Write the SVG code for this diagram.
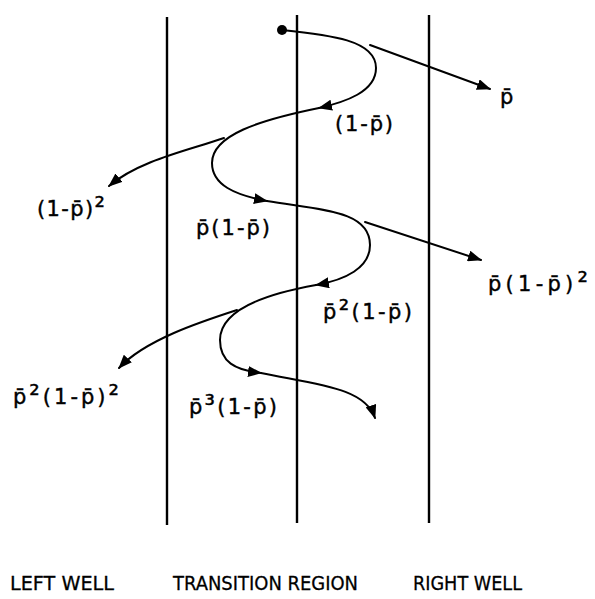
<svg xmlns="http://www.w3.org/2000/svg" width="595" height="599" viewBox="0 0 595 599">
<style>
.wall{stroke:#000;stroke-width:2.4;fill:none}
.c{stroke:#000;stroke-width:2;fill:none;stroke-linecap:round}
.a{marker-end:url(#ah)}
.lb{font-family:"DejaVu Sans",sans-serif;font-size:21px;fill:#000;stroke:#000;stroke-width:0.4}
.sp{font-size:26px}
.bt{font-family:"DejaVu Sans",sans-serif;font-size:20px;fill:#000;stroke:#000;stroke-width:0.3}
</style>
<defs>
<marker id="ah" viewBox="0 0 14 11" refX="13" refY="5.5" markerWidth="14" markerHeight="11" markerUnits="userSpaceOnUse" orient="auto">
<path d="M0,0 L14,5.5 L0,11 Z" fill="#000"/>
</marker>
</defs>
<rect width="595" height="599" fill="#fff"/>
<g id="walls">
<line class="wall" x1="167" y1="17" x2="167" y2="525"/>
<line class="wall" x1="297" y1="15" x2="297" y2="523"/>
<line class="wall" x1="429" y1="15" x2="429" y2="523"/>
</g>
<g id="connectors">
<circle cx="282" cy="30" r="5" fill="#000"/>
<path class="c a" d="M282,30 C330,35 376,40 376,68 C376,92 345,102 319,108"/>
<path class="c a" d="M319,108 C260,120 212,135 212,163 C212,185 235,195 267,201"/>
<path class="c a" d="M267,201 C320,210 370,210 370,245 C370,268 345,280 316,285"/>
<path class="c a" d="M316,285 C260,295 220,312 220,340 C220,362 235,370 261,373"/>
<path class="c a" d="M261,373 C320,385 365,388 375,418"/>
<path class="c a" d="M370,45 L490,89"/>
<path class="c a" d="M224,138 C190,150 140,160 109,186"/>
<path class="c a" d="M365,222 L481,260"/>
<path class="c a" d="M237,310 C200,322 145,340 119,368"/>
</g>
<g id="labels">
<text id="l1" class="lb" x="500" y="104">p̄</text>
<text id="l2" class="lb" x="335" y="131" textLength="58" lengthAdjust="spacing">(1-p̄)</text>
<text id="l3" class="lb" x="37" y="216" textLength="68" lengthAdjust="spacing">(1-p̄)<tspan class="sp">²</tspan></text>
<text id="l4" class="lb" x="196" y="235" textLength="74" lengthAdjust="spacing">p̄(1-p̄)</text>
<text id="l5" class="lb" x="488" y="291" textLength="100" lengthAdjust="spacing">p̄(1-p̄)<tspan class="sp">²</tspan></text>
<text id="l6" class="lb" x="323" y="319" textLength="89" lengthAdjust="spacing">p̄<tspan class="sp">²</tspan>(1-p̄)</text>
<text id="l7" class="lb" x="13" y="404" textLength="106" lengthAdjust="spacing">p̄<tspan class="sp">²</tspan>(1-p̄)<tspan class="sp">²</tspan></text>
<text id="l8" class="lb" x="189" y="414" textLength="88" lengthAdjust="spacing">p̄<tspan class="sp">³</tspan>(1-p̄)</text>
</g>
<g id="regions">
<text id="left-well" class="bt" x="10" y="590" textLength="104" lengthAdjust="spacingAndGlyphs">LEFT WELL</text>
<text id="transition-region" class="bt" x="173" y="590" textLength="185" lengthAdjust="spacingAndGlyphs">TRANSITION REGION</text>
<text id="right-well" class="bt" x="413" y="590" textLength="109" lengthAdjust="spacingAndGlyphs">RIGHT WELL</text>
</g>
</svg>
